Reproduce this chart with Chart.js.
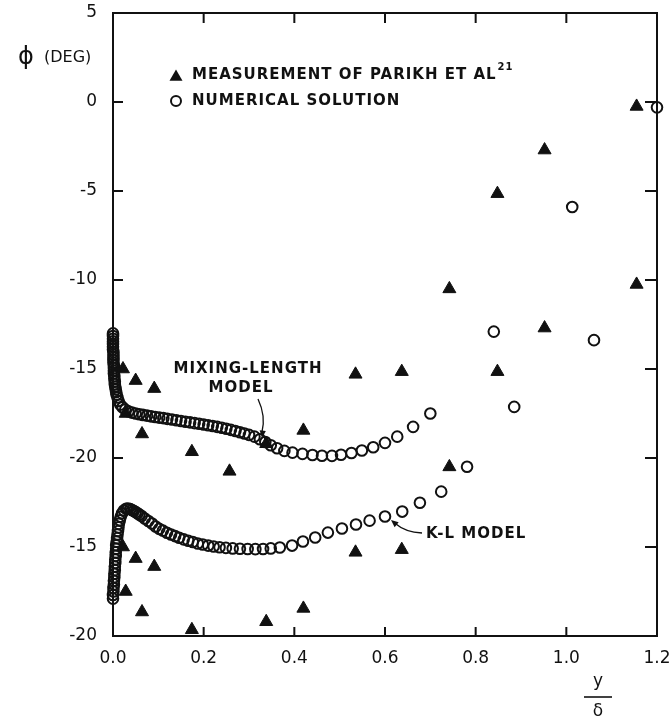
<!DOCTYPE html>
<html>
<head>
<meta charset="utf-8">
<script src="https://cdn.jsdelivr.net/npm/chart.js@4.4.1/dist/chart.umd.min.js"></script>
<style>
  html, body { margin: 0; padding: 0; background: #fff; }
</style>
</head>
<body>
<canvas id="chart" width="670" height="721"></canvas>
<script>
const FONT = '"DejaVu Sans", sans-serif';
const INK = '#111';

// axis ticks
const xTicks = [0, 0.2, 0.4, 0.6, 0.8, 1.0, 1.2];
const yTicks = [5, 0, -5, -10, -15, -20, -25, -30];
const yTickLabels = ['5', '0', '-5', '-10', '-15', '-20', '-15', '-20'];
// the K-L panel is drawn 10 deg lower, bottom labels belong to it
const klShift = -10;

// measurement of Parikh et al (y/delta, phi deg)
const measX = [0.022, 0.028, 0.05, 0.064, 0.091, 0.174, 0.257, 0.338, 0.42, 0.535, 0.637, 0.742, 0.848, 0.952, 1.155];
const measY = [-15.0, -17.5, -15.65, -18.65, -16.1, -19.65, -20.75, -19.2, -18.45, -15.3, -15.15, -10.5, -5.15, -2.7, -0.25];

// numerical solution, mixing-length model
const mlX = [0, 0, 0, 0, 0, 0, 0, 0.001, 0.001, 0.001, 0.001, 0.001, 0.002, 0.002, 0.002, 0.002,
  0.003, 0.003, 0.004, 0.004, 0.005, 0.006, 0.007, 0.008, 0.01, 0.012,
  0.016, 0.021, 0.027, 0.034, 0.042, 0.05, 0.058, 0.066, 0.075, 0.084, 0.093, 0.102, 0.111, 0.12, 0.13, 0.14,
  0.15, 0.16, 0.17, 0.18, 0.19, 0.2, 0.21, 0.22, 0.23, 0.24, 0.25, 0.26, 0.27, 0.28, 0.29, 0.3,
  0.312, 0.324, 0.336, 0.348, 0.362, 0.378, 0.396, 0.418, 0.44, 0.461, 0.483, 0.503, 0.526, 0.549, 0.574, 0.6,
  0.627, 0.662, 0.7, 0.84, 1.013, 1.2];
const mlY = [-13.0, -13.15, -13.3, -13.45, -13.6, -13.75, -13.9, -14.05, -14.2, -14.35, -14.5, -14.65, -14.8, -14.95, -15.1, -15.25,
  -15.4, -15.55, -15.7, -15.85, -16.0, -16.15, -16.3, -16.45, -16.6, -16.8,
  -17.0, -17.15, -17.28, -17.38, -17.45, -17.5, -17.54, -17.58, -17.62, -17.66, -17.7, -17.73, -17.76, -17.8, -17.84, -17.88,
  -17.92, -17.96, -18.0, -18.04, -18.08, -18.12, -18.16, -18.2, -18.25, -18.3, -18.36, -18.42, -18.48, -18.55, -18.62, -18.7,
  -18.8, -18.95, -19.1, -19.28, -19.45, -19.6, -19.7, -19.77, -19.83, -19.87, -19.88, -19.82, -19.72, -19.58, -19.4, -19.15,
  -18.8, -18.25, -17.5, -12.9, -5.9, -0.3];

// numerical solution, K-L model (own scale, bottom part)
const klX = [0, 0, 0.001, 0.001, 0.002, 0.002, 0.003, 0.003, 0.004, 0.004, 0.005, 0.005, 0.006, 0.006, 0.007, 0.007,
  0.008, 0.009, 0.01, 0.011, 0.012, 0.013, 0.015,
  0.017, 0.02, 0.024, 0.029, 0.033, 0.038, 0.042, 0.046, 0.05, 0.054, 0.058, 0.063,
  0.07, 0.078, 0.086, 0.094, 0.102, 0.11, 0.119, 0.128, 0.137, 0.146, 0.156, 0.166, 0.176, 0.187, 0.198, 0.21,
  0.222, 0.235, 0.249, 0.264, 0.28, 0.297, 0.314, 0.331, 0.348, 0.368, 0.395, 0.419, 0.446, 0.474, 0.505, 0.536,
  0.566, 0.6, 0.638, 0.677, 0.724, 0.781, 0.885, 1.061];
const klY = [-17.9, -17.7, -17.5, -17.3, -17.1, -16.9, -16.7, -16.5, -16.3, -16.1, -15.9, -15.7, -15.5, -15.3, -15.1, -14.9,
  -14.7, -14.5, -14.3, -14.1, -13.9, -13.7, -13.5,
  -13.3, -13.1, -12.95, -12.85, -12.84, -12.87, -12.92, -12.98, -13.04, -13.1, -13.17, -13.26,
  -13.4, -13.54, -13.68, -13.85, -13.98, -14.08, -14.2, -14.3, -14.39, -14.48, -14.57, -14.65, -14.72, -14.8, -14.86, -14.92,
  -14.97, -15.01, -15.05, -15.08, -15.1, -15.11, -15.12, -15.11, -15.08, -15.03, -14.92, -14.69, -14.47, -14.19, -13.96, -13.74,
  -13.52, -13.29, -13.01, -12.51, -11.89, -10.49, -7.13, -3.38];

const toPoints = (xs, ys, shift = 0) => xs.map((x, i) => ({ x: x, y: ys[i] + shift }));

const drawTriangle = (ctx, cx, cy, r) => {
  ctx.beginPath();
  ctx.moveTo(cx, cy - r);
  ctx.lineTo(cx + r * 0.866, cy + r * 0.5);
  ctx.lineTo(cx - r * 0.866, cy + r * 0.5);
  ctx.closePath();
  ctx.fill();
};

const arrowHead = (ctx, tx, ty, angle, len) => {
  ctx.beginPath();
  ctx.moveTo(tx, ty);
  ctx.lineTo(tx - len * Math.cos(angle - 0.4), ty - len * Math.sin(angle - 0.4));
  ctx.lineTo(tx - len * Math.cos(angle + 0.4), ty - len * Math.sin(angle + 0.4));
  ctx.closePath();
  ctx.fill();
};

const framePlugin = {
  id: 'frame',
  afterDraw(chart) {
    const { ctx, chartArea: a, scales } = chart;
    const x = scales.x, y = scales.y;
    ctx.save();
    ctx.strokeStyle = INK;
    ctx.fillStyle = INK;
    ctx.lineWidth = 2;
    ctx.strokeRect(a.left, a.top, a.right - a.left, a.bottom - a.top);

    // inward tick marks on all four sides
    ctx.beginPath();
    xTicks.forEach(v => {
      const px = x.getPixelForValue(v);
      if (px <= a.left + 1 || px >= a.right - 1) return;
      ctx.moveTo(px, a.bottom); ctx.lineTo(px, a.bottom - 9);
      ctx.moveTo(px, a.top); ctx.lineTo(px, a.top + 10);
    });
    yTicks.forEach(v => {
      const py = y.getPixelForValue(v);
      if (py <= a.top + 1 || py >= a.bottom - 1) return;
      ctx.moveTo(a.left, py); ctx.lineTo(a.left + 10, py);
      ctx.moveTo(a.right, py); ctx.lineTo(a.right - 12, py);
    });
    ctx.stroke();

    // y axis title
    ctx.textBaseline = 'middle';
    ctx.textAlign = 'left';
    ctx.font = '24px ' + FONT;
    ctx.fillText('ϕ', 18, 58);
    ctx.font = '16px ' + FONT;
    ctx.fillText('(DEG)', 44, 58);

    // x axis title y / delta
    ctx.textAlign = 'center';
    ctx.font = '17px ' + FONT;
    ctx.fillText('y', 598, 682);
    ctx.fillText('δ', 598, 712);
    ctx.lineWidth = 1.6;
    ctx.beginPath();
    ctx.moveTo(584, 697); ctx.lineTo(612, 697);
    ctx.stroke();

    // legend
    ctx.textAlign = 'left';
    ctx.letterSpacing = '1px';
    ctx.font = 'bold 15px ' + FONT;
    drawTriangle(ctx, 176, 77, 7.5);
    ctx.fillText('MEASUREMENT OF PARIKH ET AL', 192, 75);
    const w = ctx.measureText('MEASUREMENT OF PARIKH ET AL').width;
    ctx.font = 'bold 10px ' + FONT;
    ctx.fillText('21', 192 + w + 1, 67);
    ctx.font = 'bold 15px ' + FONT;
    ctx.lineWidth = 2;
    ctx.beginPath();
    ctx.arc(176, 101, 5, 0, Math.PI * 2);
    ctx.stroke();
    ctx.fillText('NUMERICAL SOLUTION', 192, 101);

    // model labels
    ctx.textAlign = 'center';
    ctx.fillText('MIXING-LENGTH', 248, 369);
    ctx.fillText('MODEL', 241, 388);
    ctx.textAlign = 'left';
    ctx.fillText('K-L MODEL', 426, 534);

    // arrows
    ctx.lineWidth = 1.3;
    ctx.beginPath();
    ctx.moveTo(258, 399);
    ctx.quadraticCurveTo(266, 416, 262, 432);
    ctx.stroke();
    arrowHead(ctx, 262, 438, Math.PI / 2 + 0.1, 8);
    ctx.beginPath();
    ctx.moveTo(422, 533);
    ctx.quadraticCurveTo(405, 532, 396, 524);
    ctx.stroke();
    arrowHead(ctx, 391, 520, Math.PI + 0.7, 8);
    ctx.restore();
  }
};

const circleStyle = {
  pointStyle: 'circle',
  pointRadius: 5.3,
  borderWidth: 2,
  borderColor: INK,
  backgroundColor: 'rgba(0,0,0,0)'
};
const triangleStyle = {
  pointStyle: 'triangle',
  pointRadius: 7.5,
  borderWidth: 1,
  borderColor: INK,
  backgroundColor: INK
};

const ctx = document.getElementById('chart').getContext('2d');
new Chart(ctx, {
  type: 'scatter',
  data: {
    datasets: [
      { label: 'Mixing-length model', data: toPoints(mlX, mlY), ...circleStyle, clip: false },
      { label: 'K-L model', data: toPoints(klX, klY, klShift), ...circleStyle, clip: false },
      { label: 'Measurement', data: toPoints(measX, measY), ...triangleStyle, clip: false },
      {
        label: 'Measurement (K-L panel)',
        data: toPoints(measX, measY, klShift),
        ...triangleStyle,
        clip: { left: false, top: false, right: false, bottom: 0 }
      }
    ]
  },
  options: {
    responsive: false,
    animation: false,
    events: [],
    layout: { padding: 0 },
    plugins: {
      legend: { display: false },
      tooltip: { enabled: false }
    },
    scales: {
      x: {
        type: 'linear',
        min: 0,
        max: 1.2,
        grid: { display: false, drawTicks: false },
        border: { display: false },
        afterBuildTicks: s => { s.ticks = xTicks.map(v => ({ value: v })); },
        afterFit: s => { s.height = 85; s.paddingLeft = 0; s.paddingRight = 13; },
        ticks: {
          padding: 12,
          maxRotation: 0,
          color: INK,
          font: { family: FONT, size: 17 },
          callback: v => v.toFixed(1)
        }
      },
      y: {
        type: 'linear',
        min: -30,
        max: 5,
        grid: { display: false, drawTicks: false },
        border: { display: false },
        afterBuildTicks: s => { s.ticks = yTicks.map(v => ({ value: v })); },
        afterFit: s => { s.width = 113; s.paddingTop = 13; s.paddingBottom = 0; },
        ticks: {
          padding: 16,
          color: INK,
          font: { family: FONT, size: 17 },
          callback: v => yTickLabels[yTicks.indexOf(v)]
        }
      }
    }
  },
  plugins: [framePlugin]
});
</script>
</body>
</html>
